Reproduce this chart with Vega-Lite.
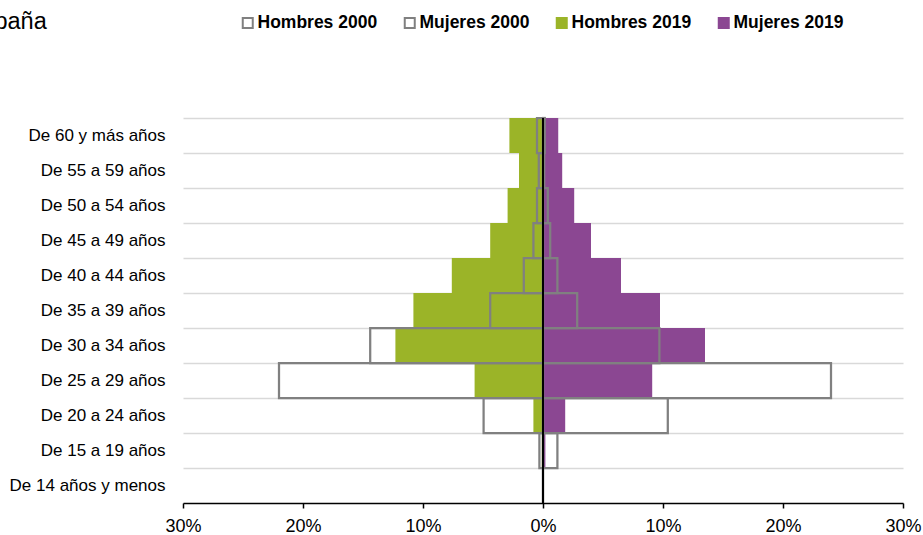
{
  "$schema": "https://vega.github.io/schema/vega-lite/v6.json",
  "autosize": "none",
  "width": 720,
  "height": 385,
  "padding": {"left": 183, "top": 118, "right": 20, "bottom": 32},
  "background": "white",
  "title": {
    "text": "España",
    "anchor": "start",
    "frame": "group",
    "font": "Liberation Sans",
    "fontSize": 23.5,
    "fontWeight": "normal",
    "color": "black",
    "dx": -216,
    "dy": 38,
    "baseline": "alphabetic",
    "offset": 0
  },
  "config": {
    "view": {"stroke": null},
    "font": "Liberation Sans",
    "legend": {
      "orient": "none",
      "legendX": 56,
      "legendY": -104,
      "direction": "horizontal",
      "title": null,
      "labelFont": "Liberation Sans",
      "labelFontSize": 17.5,
      "labelFontWeight": "bold",
      "labelColor": "black",
      "symbolType": "square",
      "symbolSize": 100,
      "symbolStrokeWidth": 2,
      "labelOffset": 1,
      "columnPadding": 22,
      "padding": 0
    }
  },
  "data": {
    "values": [
      {"grupo": "De 60 y más años", "serie": "Hombres 2019", "valor": -2.8},
      {"grupo": "De 60 y más años", "serie": "Mujeres 2019", "valor": 1.27},
      {"grupo": "De 60 y más años", "serie": "Hombres 2000", "valor": -0.5},
      {"grupo": "De 60 y más años", "serie": "Mujeres 2000", "valor": 0.15},
      {"grupo": "De 55 a 59 años", "serie": "Hombres 2019", "valor": -2.0},
      {"grupo": "De 55 a 59 años", "serie": "Mujeres 2019", "valor": 1.6},
      {"grupo": "De 55 a 59 años", "serie": "Hombres 2000", "valor": -0.35},
      {"grupo": "De 55 a 59 años", "serie": "Mujeres 2000", "valor": 0.1},
      {"grupo": "De 50 a 54 años", "serie": "Hombres 2019", "valor": -2.95},
      {"grupo": "De 50 a 54 años", "serie": "Mujeres 2019", "valor": 2.6},
      {"grupo": "De 50 a 54 años", "serie": "Hombres 2000", "valor": -0.5},
      {"grupo": "De 50 a 54 años", "serie": "Mujeres 2000", "valor": 0.4},
      {"grupo": "De 45 a 49 años", "serie": "Hombres 2019", "valor": -4.4},
      {"grupo": "De 45 a 49 años", "serie": "Mujeres 2019", "valor": 4.0},
      {"grupo": "De 45 a 49 años", "serie": "Hombres 2000", "valor": -0.8},
      {"grupo": "De 45 a 49 años", "serie": "Mujeres 2000", "valor": 0.6},
      {"grupo": "De 40 a 44 años", "serie": "Hombres 2019", "valor": -7.6},
      {"grupo": "De 40 a 44 años", "serie": "Mujeres 2019", "valor": 6.5},
      {"grupo": "De 40 a 44 años", "serie": "Hombres 2000", "valor": -1.6},
      {"grupo": "De 40 a 44 años", "serie": "Mujeres 2000", "valor": 1.2},
      {"grupo": "De 35 a 39 años", "serie": "Hombres 2019", "valor": -10.8},
      {"grupo": "De 35 a 39 años", "serie": "Mujeres 2019", "valor": 9.75},
      {"grupo": "De 35 a 39 años", "serie": "Hombres 2000", "valor": -4.4},
      {"grupo": "De 35 a 39 años", "serie": "Mujeres 2000", "valor": 2.85},
      {"grupo": "De 30 a 34 años", "serie": "Hombres 2019", "valor": -12.3},
      {"grupo": "De 30 a 34 años", "serie": "Mujeres 2019", "valor": 13.5},
      {"grupo": "De 30 a 34 años", "serie": "Hombres 2000", "valor": -14.4},
      {"grupo": "De 30 a 34 años", "serie": "Mujeres 2000", "valor": 9.7},
      {"grupo": "De 25 a 29 años", "serie": "Hombres 2019", "valor": -5.7},
      {"grupo": "De 25 a 29 años", "serie": "Mujeres 2019", "valor": 9.1},
      {"grupo": "De 25 a 29 años", "serie": "Hombres 2000", "valor": -22.0},
      {"grupo": "De 25 a 29 años", "serie": "Mujeres 2000", "valor": 24.0},
      {"grupo": "De 20 a 24 años", "serie": "Hombres 2019", "valor": -0.8},
      {"grupo": "De 20 a 24 años", "serie": "Mujeres 2019", "valor": 1.85},
      {"grupo": "De 20 a 24 años", "serie": "Hombres 2000", "valor": -4.95},
      {"grupo": "De 20 a 24 años", "serie": "Mujeres 2000", "valor": 10.4},
      {"grupo": "De 15 a 19 años", "serie": "Hombres 2019", "valor": -0.1},
      {"grupo": "De 15 a 19 años", "serie": "Mujeres 2019", "valor": 0.2},
      {"grupo": "De 15 a 19 años", "serie": "Hombres 2000", "valor": -0.3},
      {"grupo": "De 15 a 19 años", "serie": "Mujeres 2000", "valor": 1.2},
      {"grupo": "De 14 años y menos", "serie": "Hombres 2019", "valor": 0},
      {"grupo": "De 14 años y menos", "serie": "Mujeres 2019", "valor": 0},
      {"grupo": "De 14 años y menos", "serie": "Hombres 2000", "valor": 0},
      {"grupo": "De 14 años y menos", "serie": "Mujeres 2000", "valor": 0}
    ]
  },
  "resolve": {"axis": {"y": "independent"}},
  "layer": [
    {
      "transform": [{"filter": "indexof(datum.serie, '2019') >= 0"}],
      "mark": {"type": "bar", "strokeWidth": 0},
      "encoding": {
        "y": {
          "field": "grupo", "type": "nominal",
          "sort": ["De 60 y más años","De 55 a 59 años","De 50 a 54 años","De 45 a 49 años","De 40 a 44 años","De 35 a 39 años","De 30 a 34 años","De 25 a 29 años","De 20 a 24 años","De 15 a 19 años","De 14 años y menos"],
          "scale": {"paddingInner": 0, "paddingOuter": 0},
          "axis": {"orient": "right", "title": null, "labels": false, "ticks": false, "domain": false, "grid": true, "gridColor": "#D9D9D9", "gridWidth": 1.5, "bandPosition": 0}
        },
        "x": {
          "field": "valor", "type": "quantitative",
          "scale": {"domain": [-30, 30], "nice": false},
          "axis": {"title": null, "values": [-30,-20,-10,0,10,20,30], "labelExpr": "abs(datum.value) + '%'", "grid": false, "domainColor": "black", "domainWidth": 1.5, "tickColor": "black", "tickWidth": 1.5, "tickSize": 5, "labelPadding": 9, "labelFont": "Liberation Sans", "labelFontSize": 18, "labelColor": "black", "labelFlush": false}
        },
        "fill": {
          "field": "serie", "type": "nominal",
          "scale": {"domain": ["Hombres 2000","Mujeres 2000","Hombres 2019","Mujeres 2019"], "range": ["rgba(255,255,255,0)","rgba(255,255,255,0)","#9BB428","#8B4792"]}
        },
        "stroke": {
          "field": "serie", "type": "nominal",
          "scale": {"domain": ["Hombres 2000","Mujeres 2000","Hombres 2019","Mujeres 2019"], "range": ["#808080","#808080","#9BB428","#8B4792"]}
        }
      }
    },
    {
      "transform": [{"filter": "indexof(datum.serie, '2000') >= 0"}],
      "mark": {"type": "bar", "strokeWidth": 2.25},
      "encoding": {
        "y": {
          "field": "grupo", "type": "nominal",
          "sort": ["De 60 y más años","De 55 a 59 años","De 50 a 54 años","De 45 a 49 años","De 40 a 44 años","De 35 a 39 años","De 30 a 34 años","De 25 a 29 años","De 20 a 24 años","De 15 a 19 años","De 14 años y menos"],
          "scale": {"paddingInner": 0, "paddingOuter": 0},
          "axis": {"orient": "left", "title": null, "ticks": false, "domain": false, "grid": false, "labelPadding": 18, "labelFont": "Liberation Sans", "labelFontSize": 17, "labelColor": "black"}
        },
        "x": {"field": "valor", "type": "quantitative"},
        "fill": {"field": "serie", "type": "nominal"},
        "stroke": {"field": "serie", "type": "nominal"}
      }
    },
    {
      "mark": {"type": "rule", "color": "black", "strokeWidth": 1.5},
      "encoding": {"x": {"datum": 0}}
    }
  ]
}
